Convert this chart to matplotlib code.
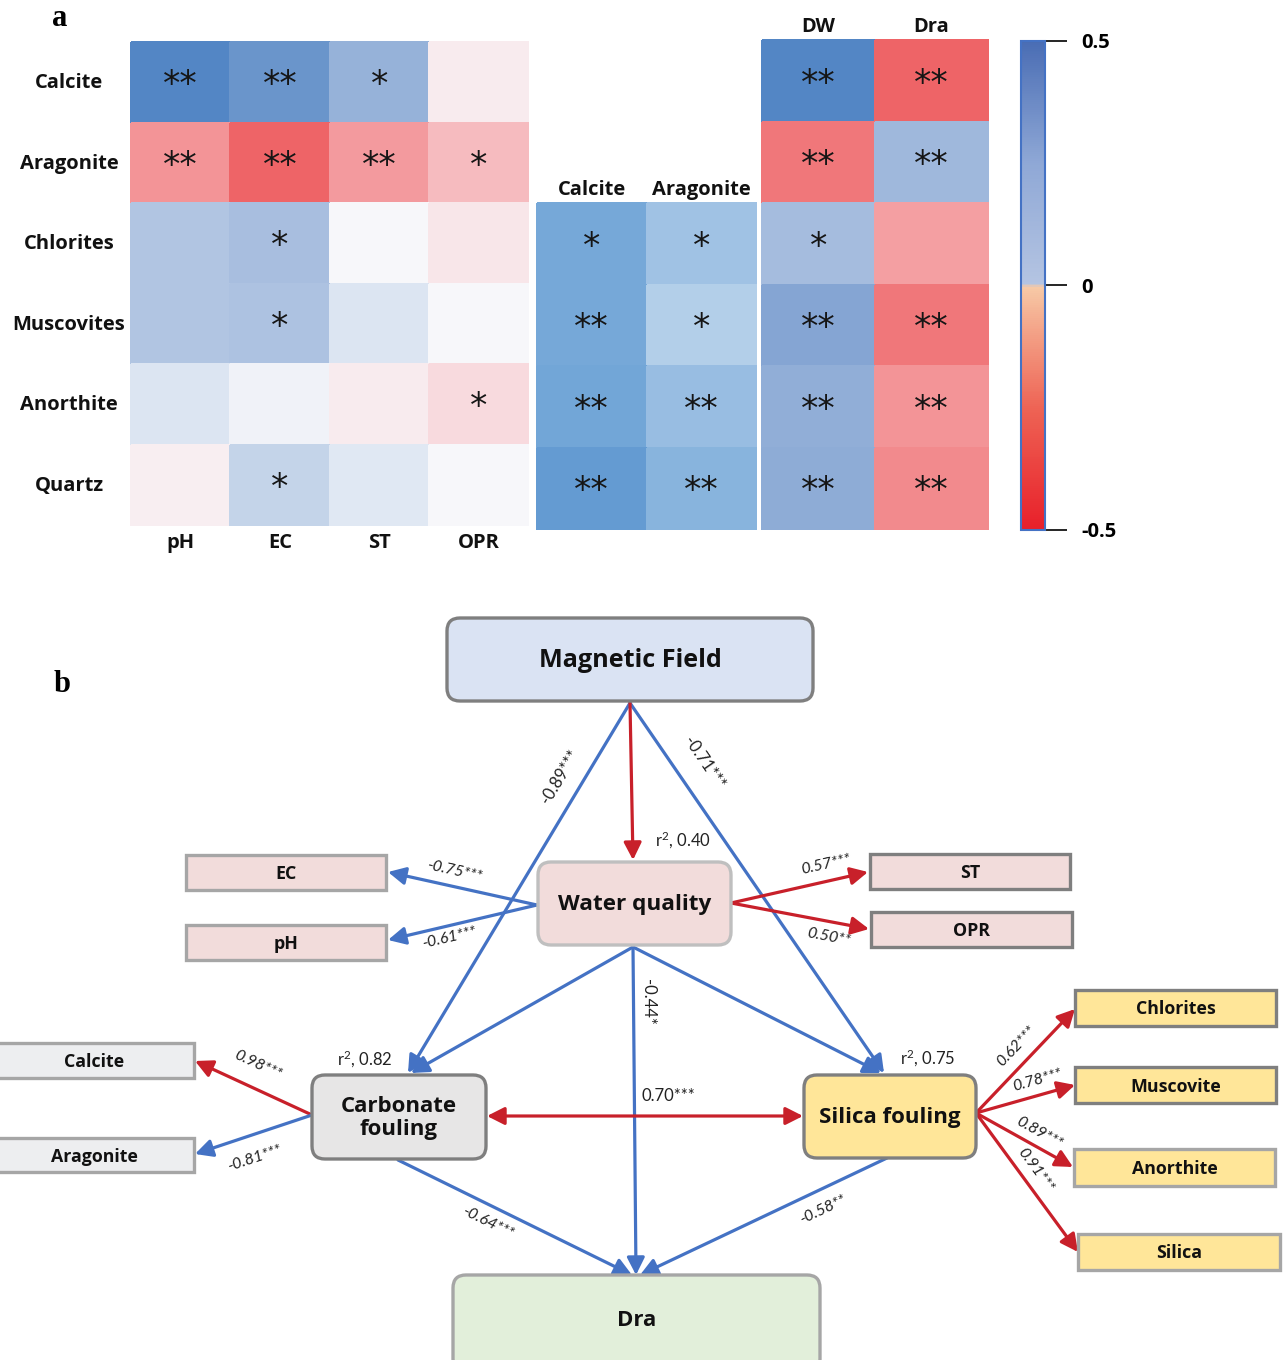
import math
import numpy as np
import matplotlib
matplotlib.use('Agg')
import matplotlib.pyplot as plt
from matplotlib.colors import LinearSegmentedColormap, Normalize
from matplotlib.patches import FancyBboxPatch, Rectangle, FancyArrowPatch
import matplotlib.cm as cm

plt.rcParams['font.family'] = ['Lato', 'DejaVu Sans']
plt.rcParams['axes.unicode_minus'] = False
plt.rcParams['mathtext.fontset'] = 'custom'
plt.rcParams['mathtext.rm'] = 'Lato'
plt.rcParams['mathtext.it'] = 'Lato:italic'

BOLD = ['Open Sans', 'DejaVu Sans']

# ---------------- panel a: correlation heatmaps ----------------
minerals = ['Calcite', 'Aragonite', 'Chlorites', 'Muscovites', 'Anorthite', 'Quartz']
water_params = ['pH', 'EC', 'ST', 'OPR']
silicates = ['Chlorites', 'Muscovites', 'Anorthite', 'Quartz']
carbonates = ['Calcite', 'Aragonite']
outcomes = ['DW', 'Dra']

corr_water = np.array([
    [0.40, 0.34, 0.24, -0.03],
    [-0.20, -0.30, -0.19, -0.13],
    [0.18, 0.20, 0.00, -0.04],
    [0.18, 0.19, 0.08, 0.00],
    [0.08, 0.02, -0.03, -0.07],
    [-0.02, 0.14, 0.07, 0.00],
])
stars_water = [
    ['**', '**', '*', ''],
    ['**', '**', '**', '*'],
    ['', '*', '', ''],
    ['', '*', '', ''],
    ['', '', '', '*'],
    ['', '*', '', ''],
]

corr_carb = np.array([
    [0.39, 0.27],
    [0.39, 0.20],
    [0.40, 0.30],
    [0.44, 0.34],
])
stars_carb = [
    ['*', '*'],
    ['**', '*'],
    ['**', '**'],
    ['**', '**'],
]

corr_out = np.array([
    [0.40, -0.30],
    [-0.26, 0.22],
    [0.21, -0.18],
    [0.28, -0.26],
    [0.25, -0.20],
    [0.26, -0.22],
])
stars_out = [
    ['**', '**'],
    ['**', '**'],
    ['*', ''],
    ['**', '**'],
    ['**', '**'],
    ['**', '**'],
]

# ---------------- panel b: path diagram ----------------
path_coefs = {
    'MF-CF': '-0.89***', 'MF-SF': '-0.71***',
    'WQ-EC': '-0.75***', 'WQ-pH': '-0.61***',
    'WQ-ST': '0.57***', 'WQ-OPR': '0.50**',
    'WQ-Dra': '-0.44*', 'CF-SF': '0.70***',
    'CF-Calcite': '0.98***', 'CF-Aragonite': '-0.81***',
    'CF-Dra': '-0.64***', 'SF-Dra': '-0.58**',
    'SF-Chlorites': '0.62***', 'SF-Muscovite': '0.78***',
    'SF-Anorthite': '0.89***', 'SF-Silica': '0.91***',
}
r2_values = {'WQ': 0.40, 'CF': 0.82, 'SF': 0.75}

BLUE = '#4472C4'
RED = '#C8202A'

cmap_main = LinearSegmentedColormap.from_list('main', [
    (0.0, '#E8262D'), (0.2, '#EE6467'), (0.3, '#F39598'), (0.4, '#F8CDD1'),
    (0.5, '#F8F7FA'), (0.6, '#D5E1F0'), (0.7, '#A9BFDF'), (0.8, '#7C9FD0'),
    (0.9, '#5387C5'), (1.0, '#3C69B2')])
cmap_sky = LinearSegmentedColormap.from_list('sky', [
    (0.0, '#F4F8FC'), (0.4, '#B3CFE9'), (0.6, '#98BDE2'), (0.8, '#72A6D7'),
    (1.0, '#4F8CCB')])
cmap_bar = LinearSegmentedColormap.from_list('bar', [
    (0.0, '#E8202A'), (0.25, '#EE6455'), (0.42, '#F4A88C'), (0.495, '#F7C9A6'),
    (0.505, '#B4C4E2'), (0.75, '#8FA8D6'), (1.0, '#4A6DB4')])
norm = Normalize(-0.5, 0.5)
norm_sky = Normalize(0.0, 0.5)

fig = plt.figure(figsize=(12.83, 13.60), dpi=100)
ax = fig.add_axes([0, 0, 1, 1])
ax.set_xlim(0, 1283)
ax.set_ylim(1360, 0)
ax.axis('off')


def heat(x0, x1, y0, y1, vals, stars, cmap, nrm):
    nr, nc = vals.shape
    xs = np.linspace(x0, x1, nc + 1)
    ys = np.linspace(y0, y1, nr + 1)
    ax.pcolormesh(xs, ys, vals, cmap=cmap, norm=nrm, shading='flat',
                  edgecolors='face', linewidth=0.3)
    for i in range(nr):
        for j in range(nc):
            if stars[i][j]:
                ax.text((xs[j] + xs[j + 1]) / 2, (ys[i] + ys[i + 1]) / 2 + 3, stars[i][j],
                        ha='center', va='center', fontsize=25, family='DejaVu Sans',
                        color='#151515')
    return xs, ys


lab = dict(fontsize=14.5, fontweight='bold', color='#111111', family=BOLD)
xs, ys = heat(131, 528, 42, 525, corr_water, stars_water, cmap_main, norm)
for i, name in enumerate(minerals):
    ax.text(69, (ys[i] + ys[i + 1]) / 2 + 1, name, ha='center', va='center', **lab)
for j, name in enumerate(water_params):
    ax.text((xs[j] + xs[j + 1]) / 2, 543, name, ha='center', va='center', **lab)

xs, ys = heat(537, 756, 203, 529, corr_carb, stars_carb, cmap_sky, norm_sky)
for j, name in enumerate(carbonates):
    ax.text((xs[j] + xs[j + 1]) / 2, 190, name, ha='center', va='center', **lab)

xs, ys = heat(762, 988, 40, 529, corr_out, stars_out, cmap_main, norm)
for j, name in enumerate(outcomes):
    ax.text((xs[j] + xs[j + 1]) / 2, 27, name, ha='center', va='center', **lab)

ax.text(60, 18, 'a', fontsize=22, fontweight='bold', family='Liberation Serif',
        ha='center', va='center')
ax.text(62, 684, 'b', fontsize=22, fontweight='bold', family='Liberation Serif',
        ha='center', va='center')

cax = fig.add_axes([1021 / 1283, 1 - 530 / 1360, 24 / 1283, 489 / 1360])
cb = fig.colorbar(cm.ScalarMappable(norm=norm, cmap=cmap_bar), cax=cax, ticks=[0.5, 0, -0.5])
cb.set_ticklabels(['0.5', '0', '-0.5'])
cax.tick_params(length=16, width=1.2, labelsize=14.5, pad=10)
for t in cax.get_yticklabels():
    t.set_fontweight('bold')
    t.set_family(BOLD)
cb.outline.set_edgecolor(BLUE)
cb.outline.set_linewidth(1.5)


# ---------------- diagram helpers ----------------
def rbox(x0, y0, x1, y1, fc, ec, text, fs=16, ty=None):
    ax.add_patch(FancyBboxPatch((x0, y0), x1 - x0, y1 - y0,
                                boxstyle='round,pad=0,rounding_size=13',
                                fc=fc, ec=ec, lw=2.4, zorder=3))
    ax.text((x0 + x1) / 2, (y0 + y1) / 2 + 1 if ty is None else ty, text,
            ha='center', va='center', fontsize=fs, fontweight='bold',
            family=BOLD, color='#111111', zorder=4, linespacing=1.1)


def sbox(x0, y0, x1, y1, fc, ec, text):
    ax.add_patch(Rectangle((x0, y0), x1 - x0, y1 - y0, fc=fc, ec=ec, lw=2.4, zorder=3))
    ax.text((x0 + x1) / 2, (y0 + y1) / 2 + 1.5, text, ha='center', va='center',
            fontsize=12.8, fontweight='bold', family=BOLD, color='#111111', zorder=4)


def arrow(p0, p1, color, both=False):
    style = '<|-|>' if both else '-|>'
    ax.add_patch(FancyArrowPatch(p0, p1, arrowstyle=style + ',head_length=0.75,head_width=0.38',
                                 mutation_scale=14, color=color, lw=2.3,
                                 shrinkA=0, shrinkB=0, zorder=2))


def coef(key, p0, p1, xy, italic=True):
    ang = math.degrees(math.atan2(-(p1[1] - p0[1]), p1[0] - p0[0]))
    if ang > 90:
        ang -= 180
    elif ang <= -90:
        ang += 180
    ax.text(xy[0], xy[1], path_coefs[key], rotation=ang, rotation_mode='anchor',
            ha='center', va='center', fontsize=11.5 if italic else 12,
            style='italic' if italic else 'normal', color='#222222', zorder=5)


rbox(447, 618, 813, 701, '#DAE3F3', '#7F7F7F', 'Magnetic Field', fs=18.2)
rbox(538, 862, 731, 945, '#F2DCDB', '#BFBFBF', 'Water quality', fs=16.2)
rbox(312, 1075, 486, 1159, '#E7E6E6', '#7F7F7F', 'Carbonate\nfouling')
rbox(804, 1075, 976, 1158, '#FFE699', '#7F7F7F', 'Silica fouling')
rbox(453, 1275, 820, 1372, '#E2EFDA', '#A6A6A6', 'Dra', ty=1320)

sbox(186, 855, 386, 890, '#F2DCDB', '#A6A6A6', 'EC')
sbox(186, 925, 386, 960, '#F2DCDB', '#A6A6A6', 'pH')
sbox(870, 854, 1070, 889, '#F2DCDB', '#7F7F7F', 'ST')
sbox(871, 912, 1072, 947, '#F2DCDB', '#7F7F7F', 'OPR')
sbox(-5, 1043, 194, 1078, '#EDEEF0', '#A6A6A6', 'Calcite')
sbox(-5, 1138, 194, 1172, '#EDEEF0', '#A6A6A6', 'Aragonite')
sbox(1075, 990, 1276, 1026, '#FFE699', '#7F7F7F', 'Chlorites')
sbox(1075, 1067, 1276, 1103, '#FFE699', '#7F7F7F', 'Muscovite')
sbox(1074, 1149, 1275, 1186, '#FFE699', '#A6A6A6', 'Anorthite')
sbox(1078, 1234, 1280, 1270, '#FFE699', '#A6A6A6', 'Silica')

mf = (630, 703)
wq_top, wq_left, wq_right, wq_bot = (633, 860), (537, 905), (731, 903), (633, 947)
cf_top, cf_left, cf_right, cf_bot = (408, 1073), (312, 1115), (487, 1116), (398, 1160)
sf_top, sf_left, sf_right, sf_bot = (884, 1073), (803, 1116), (976, 1113), (887, 1158)

arrow(mf, cf_top, BLUE)
arrow(mf, sf_top, BLUE)
arrow(mf, wq_top, RED)
arrow(wq_left, (388, 872), BLUE)
arrow(wq_left, (388, 940), BLUE)
arrow(wq_right, (868, 872), RED)
arrow(wq_right, (869, 929), RED)
arrow(wq_bot, (411, 1073), BLUE)
arrow(wq_bot, (881, 1073), BLUE)
arrow(wq_bot, (636, 1275), BLUE)
arrow(cf_right, sf_left, RED, both=True)
arrow(cf_left, (195, 1061), RED)
arrow(cf_left, (195, 1154), BLUE)
arrow(cf_bot, (632, 1275), BLUE)
arrow(sf_bot, (640, 1275), BLUE)
arrow(sf_right, (1075, 1009), RED)
arrow(sf_right, (1075, 1085), RED)
arrow(sf_right, (1073, 1167), RED)
arrow(sf_right, (1078, 1252), RED)

coef('MF-CF', mf, cf_top, (560, 777), italic=False)
coef('MF-SF', mf, sf_top, (704, 763), italic=False)
coef('WQ-EC', (388, 872), wq_left, (454, 871))
coef('WQ-pH', (388, 940), wq_left, (449, 938))
coef('WQ-ST', wq_right, (868, 872), (826, 865))
coef('WQ-OPR', wq_right, (869, 929), (829, 937))
ax.text(648, 1002, path_coefs['WQ-Dra'], rotation=-90, ha='center', va='center',
        fontsize=12, color='#222222')
ax.text(641, 1096, path_coefs['CF-SF'], ha='left', va='center', fontsize=12, color='#222222')
coef('CF-Calcite', (195, 1061), cf_left, (258, 1065))
coef('CF-Aragonite', (195, 1154), cf_left, (255, 1158))
coef('CF-Dra', cf_bot, (632, 1275), (488, 1223))
coef('SF-Dra', (640, 1275), sf_bot, (823, 1210))
coef('SF-Chlorites', sf_right, (1075, 1009), (1016, 1046))
coef('SF-Muscovite', sf_right, (1075, 1085), (1037, 1080))
coef('SF-Anorthite', sf_right, (1073, 1167), (1039, 1133))
coef('SF-Silica', sf_right, (1078, 1252), (1035, 1170))

r2_style = dict(fontsize=12, color='#222222', ha='center', va='center')
ax.text(683, 840, f"r$^{{2}}$, {r2_values['WQ']:.2f}", **r2_style)
ax.text(365, 1059, f"r$^{{2}}$, {r2_values['CF']:.2f}", **r2_style)
ax.text(928, 1058, f"r$^{{2}}$, {r2_values['SF']:.2f}", **r2_style)

fig.savefig('out.png', dpi=100, facecolor='white')
